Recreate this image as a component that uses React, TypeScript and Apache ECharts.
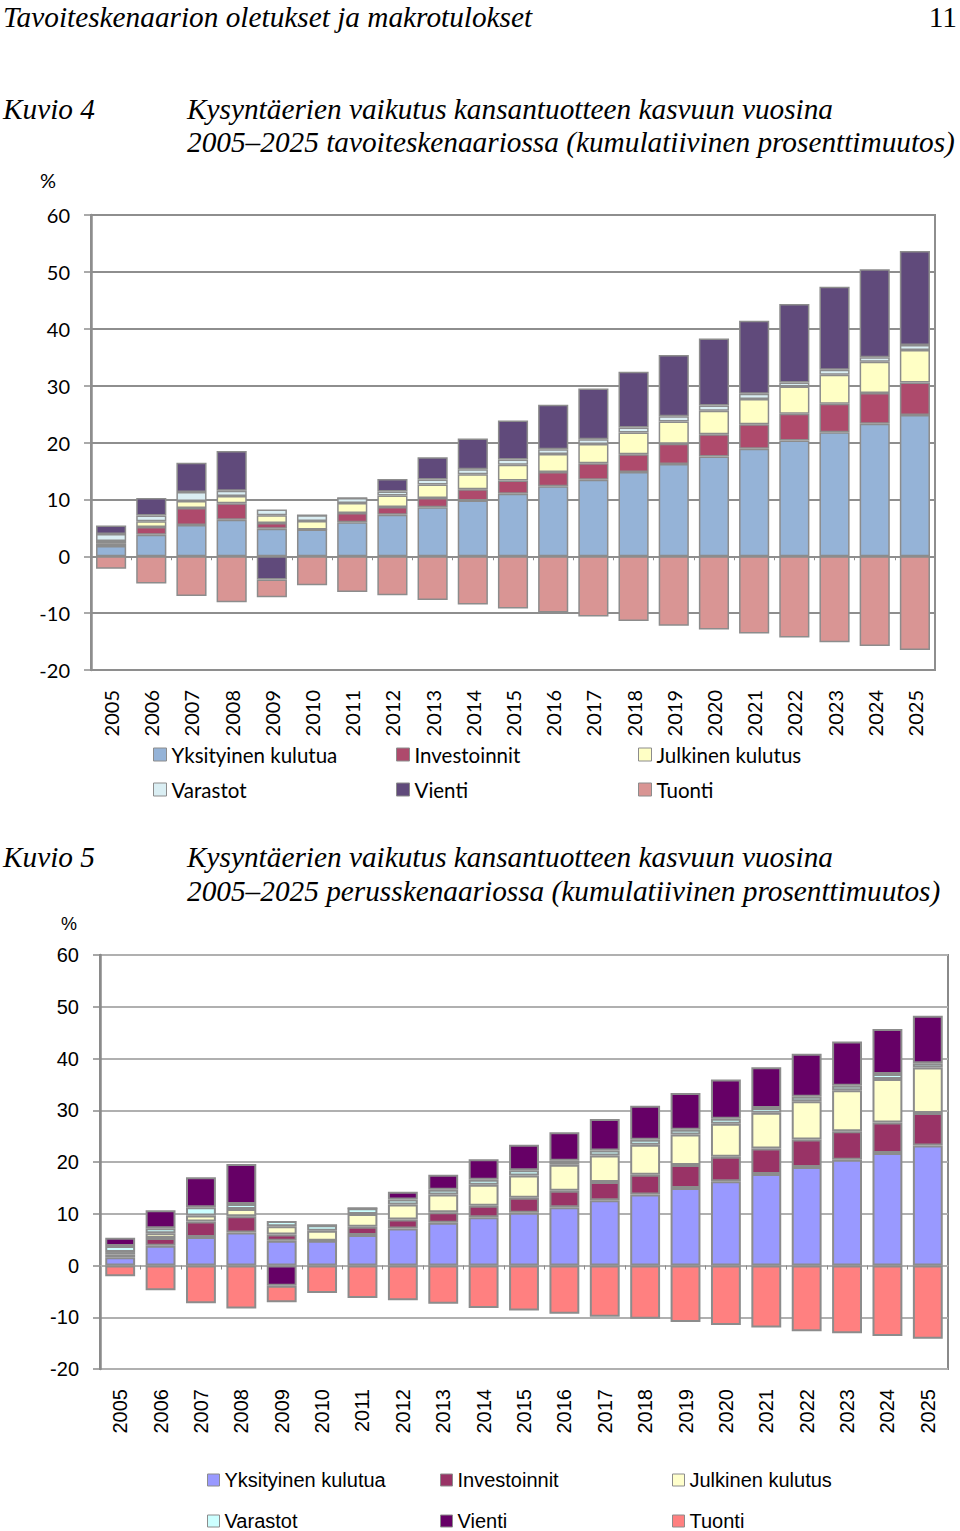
import React, { useEffect, useRef } from "react";
import * as echarts from "echarts";

const years = ["2005","2006","2007","2008","2009","2010","2011","2012","2013","2014","2015","2016","2017","2018","2019","2020","2021","2022","2023","2024","2025"];
const seriesNames = ["Yksityinen kulutua", "Investoinnit", "Julkinen kulutus", "Varastot", "Vienti", "Tuonti"];
const yTicks = { min: -20, max: 60, interval: 10 };

// Kuvio 4: tavoiteskenaario
const yks1 = [1.8, 3.8, 5.5, 6.4, 4.85, 4.7, 6.0, 7.3, 8.6, 9.8, 11.0, 12.3, 13.45, 14.8, 16.2, 17.55, 18.9, 20.35, 21.8, 23.3, 24.85];
const inv1 = [0.5, 1.35, 3.0, 2.9, 1.0, 0, 1.6, 1.35, 1.65, 2.0, 2.3, 2.5, 2.9, 3.15, 3.6, 3.9, 4.3, 4.7, 5.0, 5.4, 5.7];
const jul1 = [0.4, 1.0, 1.2, 1.3, 1.35, 1.5, 1.75, 2.05, 2.35, 2.6, 2.8, 3.2, 3.4, 3.8, 3.9, 4.15, 4.45, 4.8, 5.1, 5.5, 5.7];
const var1 = [1.2, 1.0, 1.6, 0.9, 1.0, 1.0, 0.9, 0.7, 0.9, 0.9, 0.9, 0.8, 0.8, 0.9, 0.9, 0.9, 0.9, 0.7, 0.9, 0.8, 0.9];
const vie1 = [1.5, 3.1, 5.15, 7.0, -4.1, 0, 0, 2.2, 3.9, 5.4, 6.85, 7.85, 8.95, 9.8, 10.8, 11.8, 12.85, 13.8, 14.6, 15.45, 16.5];
const tuo1 = [-2.2, -4.8, -7.0, -8.1, -3.1, -5.1, -6.3, -6.85, -7.7, -8.5, -9.2, -9.9, -10.6, -11.4, -12.2, -12.9, -13.6, -14.3, -15.1, -15.8, -16.5];

// Kuvio 5: perusskenaario
const yks2 = [1.6, 3.8, 5.5, 6.4, 4.8, 4.8, 5.9, 7.15, 8.25, 9.3, 10.2, 11.25, 12.6, 13.7, 15.0, 16.3, 17.7, 19.05, 20.45, 21.75, 23.2];
const inv2 = [0.5, 1.5, 3.0, 3.1, 1.2, 0, 1.6, 1.75, 2.05, 2.25, 2.9, 3.2, 3.55, 3.85, 4.4, 4.7, 4.9, 5.3, 5.5, 5.9, 6.25];
const jul2 = [0.5, 0.95, 1.15, 1.4, 1.6, 1.9, 2.45, 2.9, 3.4, 4.05, 4.3, 5.0, 5.1, 5.8, 5.9, 6.4, 6.9, 7.4, 7.9, 8.4, 8.8];
const var2 = [1.15, 0.95, 1.6, 1.0, 1.0, 1.1, 1.1, 0.95, 0.95, 0.95, 1.0, 0.8, 0.95, 0.95, 0.95, 0.95, 0.95, 0.85, 0.9, 0.95, 0.85];
const vie2 = [1.6, 3.5, 5.8, 7.7, -3.9, 0, 0, 1.5, 2.9, 4.0, 4.95, 5.5, 6.1, 6.55, 7.1, 7.6, 7.85, 8.3, 8.55, 8.7, 9.15];
const tuo2 = [-2.1, -4.8, -7.3, -8.3, -3.2, -5.3, -6.3, -6.7, -7.4, -8.2, -8.7, -9.3, -9.9, -10.3, -10.9, -11.5, -12.0, -12.7, -13.1, -13.6, -14.15];

const colors1 = ["#95B3D7", "#AE4A6C", "#FFFFC5", "#DAEEF3", "#604A7B", "#D99594"];
const colors2 = ["#9999FF", "#993366", "#FFFFCC", "#CCFFFF", "#660066", "#FF8080"];

type Cfg = {
  data: number[][];
  colors: string[];
  font: string;
  gridLeft: number;
  gridTop: number;
  gridWidth: number;
  gridHeight: number;
  gridColor: string;
  axisColor: string;
  borderW: number;
  labelSize: number;
  yLabelMargin: number;
  xLabelMargin: number;
  pctX: number;
  pctY: number;
  pctSize: number;
  legendX: number[];
  legendY: number[];
  legendSize: number;
  legendIcon: number;
  barGap: string;
};

function buildOption(c: Cfg) {
  const series = seriesNames.map((name, i) => ({
    name,
    type: "bar",
    stack: "total",
    xAxisIndex: 0,
    yAxisIndex: 0,
    barCategoryGap: c.barGap,
    data: c.data[i],
    itemStyle: { color: c.colors[i], borderColor: "#8C8C8C", borderWidth: c.borderW },
  }));
  const legends = seriesNames.map((name, i) => ({
    data: [name],
    left: c.legendX[i % 3],
    top: c.legendY[Math.floor(i / 3)],
    padding: 0,
    itemWidth: c.legendIcon,
    itemHeight: c.legendIcon,
    icon: "rect",
    selectedMode: false,
    itemStyle: { borderColor: "#8C8C8C", borderWidth: 1 },
    textStyle: { fontFamily: c.font, fontSize: c.legendSize, color: "#000", padding: [0, 0, 0, 0] },
  }));
  return {
    animation: false,
    backgroundColor: "transparent",
    legend: legends,
    graphic: [
      {
        type: "text",
        left: c.pctX,
        top: c.pctY,
        style: { text: "%", fontFamily: c.font, fontSize: c.pctSize, fill: "#000" },
      },
    ],
    grid: {
      left: c.gridLeft,
      top: c.gridTop,
      width: c.gridWidth,
      height: c.gridHeight,
      show: true,
      borderColor: c.axisColor,
      borderWidth: 2,
      backgroundColor: "transparent",
    },
    xAxis: [
      {
        type: "category",
        data: years,
        position: "bottom",
        axisLine: { onZero: true, lineStyle: { color: c.gridColor, width: 2 } },
        axisTick: { show: true, length: 4, lineStyle: { color: c.axisColor, width: 1 } },
        axisLabel: { show: false },
      },
      {
        type: "category",
        data: years,
        position: "bottom",
        axisLine: { show: false, onZero: false },
        axisTick: { show: false },
        axisLabel: {
          show: true,
          rotate: 90,
          margin: c.xLabelMargin,
          interval: 0,
          fontFamily: c.font,
          fontSize: c.labelSize,
          color: "#000",
        },
      },
    ],
    yAxis: {
      type: "value",
      min: yTicks.min,
      max: yTicks.max,
      interval: yTicks.interval,
      axisLine: { show: true, lineStyle: { color: c.axisColor, width: 2.5 } },
      axisTick: { show: true, length: 7, lineStyle: { color: c.axisColor, width: 1.5 } },
      splitLine: { show: true, lineStyle: { color: c.gridColor, width: 2 } },
      axisLabel: { margin: c.yLabelMargin, fontFamily: c.font, fontSize: c.labelSize, color: "#000" },
    },
    series,
  };
}

const cfg1: Cfg = {
  data: [yks1, inv1, jul1, var1, vie1, tuo1],
  colors: colors1,
  font: "Lato",
  gridLeft: 91,
  gridTop: 55,
  gridWidth: 844,
  gridHeight: 455,
  gridColor: "#8E8E8E",
  axisColor: "#8E8E8E",
  borderW: 1.5,
  labelSize: 20,
  yLabelMargin: 21,
  xLabelMargin: 20,
  pctX: 40,
  pctY: 10,
  pctSize: 20,
  legendX: [153, 396, 638],
  legendY: [584, 619],
  legendSize: 20.5,
  legendIcon: 13,
  barGap: "25%",
};

const cfg2: Cfg = {
  data: [yks2, inv2, jul2, var2, vie2, tuo2],
  colors: colors2,
  font: "Liberation Sans",
  gridLeft: 100,
  gridTop: 55,
  gridWidth: 848,
  gridHeight: 414,
  gridColor: "#B0B0B0",
  axisColor: "#8A8A8A",
  borderW: 2,
  labelSize: 20,
  yLabelMargin: 21,
  xLabelMargin: 20,
  pctX: 61,
  pctY: 15,
  pctSize: 18,
  legendX: [207, 440, 672],
  legendY: [570, 611],
  legendSize: 20,
  legendIcon: 12,
  barGap: "26%",
};

function Chart({ cfg, top, height }: { cfg: Cfg; top: number; height: number }) {
  const ref = useRef<HTMLDivElement>(null);
  useEffect(() => {
    if (!ref.current) return;
    const chart = echarts.init(ref.current, undefined, { renderer: "svg" });
    chart.setOption(buildOption(cfg) as any);
    return () => chart.dispose();
  }, [cfg]);
  return <div ref={ref} style={{ position: "absolute", left: 0, top, width: 960, height }} />;
}

const serif: React.CSSProperties = {
  position: "absolute",
  fontFamily: "'Liberation Serif', 'DejaVu Serif', serif",
  fontStyle: "italic",
  fontSize: 29.3,
  lineHeight: "33px",
  whiteSpace: "nowrap",
  color: "#000",
};

export default function App() {
  return (
    <div style={{ position: "absolute", left: 0, top: 0, width: 960, height: 1531, background: "#fff" }}>
      <Chart cfg={cfg1} top={160} height={660} />
      <Chart cfg={cfg2} top={900} height={631} />

      <div style={{ ...serif, left: 3, top: 1 }}>Tavoiteskenaarion oletukset ja makrotulokset</div>
      <div style={{ ...serif, right: 3, top: 1, fontStyle: "normal" }}>11</div>

      <div style={{ ...serif, left: 3, top: 93 }}>Kuvio 4</div>
      <div style={{ ...serif, left: 187, top: 93 }}>Kysyntäerien vaikutus kansantuotteen kasvuun vuosina</div>
      <div style={{ ...serif, left: 187, top: 126 }}>2005–2025 tavoiteskenaariossa (kumulatiivinen prosenttimuutos)</div>

      <div style={{ ...serif, left: 3, top: 841 }}>Kuvio 5</div>
      <div style={{ ...serif, left: 187, top: 841 }}>Kysyntäerien vaikutus kansantuotteen kasvuun vuosina</div>
      <div style={{ ...serif, left: 187, top: 875 }}>2005–2025 perusskenaariossa (kumulatiivinen prosenttimuutos)</div>
    </div>
  );
}
